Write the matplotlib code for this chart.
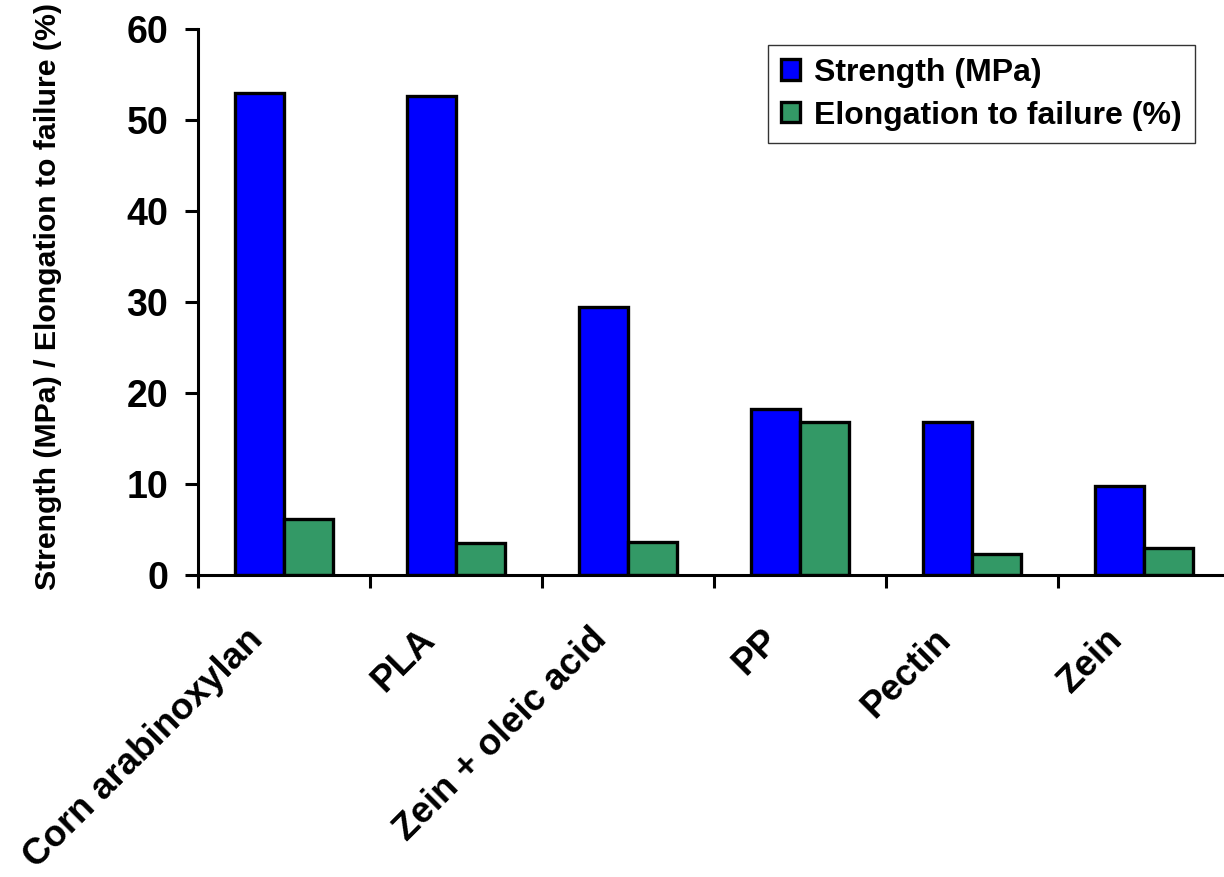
import numpy as np
import matplotlib
matplotlib.use("Agg")
from matplotlib import pyplot as plt
from matplotlib.transforms import ScaledTranslation

plt.rcParams['font.family'] = ['Liberation Sans', 'DejaVu Sans']
plt.rcParams['font.weight'] = 'bold'

categories = ["Corn arabinoxylan", "PLA", "Zein + oleic acid", "PP", "Pectin", "Zein"]
strength = [53.0, 52.6, 29.5, 18.2, 16.8, 9.8]
elongation = [6.15, 3.5, 3.6, 16.8, 2.3, 3.0]
series_names = ["Strength (MPa)", "Elongation to failure (%)"]
colors = ["#0000FF", "#339966"]

fig = plt.figure(figsize=(12.24, 8.77), dpi=100)
ax = fig.add_axes([198 / 1224, 1 - 575 / 877, 1 - 198 / 1224, (575 - 29) / 877])

x = np.arange(len(categories))
w = 0.285
ax.bar(x - w / 2, strength, w, color=colors[0], edgecolor="black", linewidth=2.4,
       label=series_names[0], zorder=3)
ax.bar(x + w / 2, elongation, w, color=colors[1], edgecolor="black", linewidth=2.4,
       label=series_names[1], zorder=3)

ax.set_xlim(-0.5, 5.465)
ax.set_ylim(0, 60)
ax.set_yticks(np.arange(0, 61, 10))
ax.set_xticks(np.arange(-0.5, 5.5, 1.0))
ax.set_xticklabels([])
ax.tick_params(axis="y", labelsize=27, length=9.5, width=2.2, pad=12)
ax.tick_params(axis="x", length=9.5, width=2.2)
for s in ["top", "right"]:
    ax.spines[s].set_visible(False)
for s in ["left", "bottom"]:
    ax.spines[s].set_linewidth(2.2)
    ax.spines[s].set_zorder(4)

# rotated category labels, ends close to the group centre
off = ScaledTranslation(0, -47 / 100, fig.dpi_scale_trans)
for i, c in enumerate(categories):
    ax.text(i - 0.08, 0, c, transform=ax.get_xaxis_transform() + off,
            rotation=45, ha="right", va="top", fontsize=26.5, fontweight="bold")

ax.set_ylabel("Strength (MPa) / Elongation to failure (%)", fontsize=21.8, fontweight="bold")
ax.yaxis.set_label_coords((62 - 198) / 1026, 0.51)

leg = ax.legend(loc="upper right", bbox_to_anchor=(1195 / 1224, 1 - 45 / 877),
                bbox_transform=fig.transFigure, fontsize=23, frameon=True, fancybox=False,
                handlelength=0.6, handleheight=0.6, handletextpad=0.45,
                labelspacing=0.4, borderpad=0.4, borderaxespad=0)
leg.get_frame().set_edgecolor("black")
leg.get_frame().set_linewidth(1.0)
for t in leg.get_texts():
    t.set_fontweight("bold")

fig.savefig("out.png", dpi=100)
